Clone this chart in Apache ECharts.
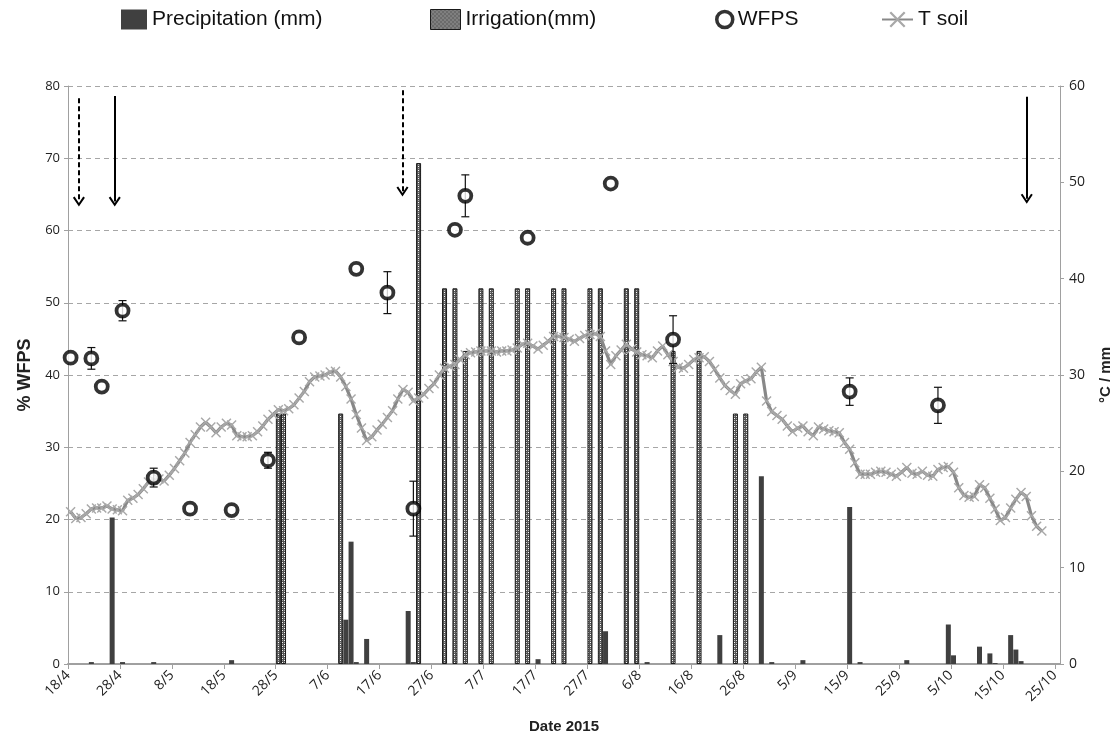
<!DOCTYPE html>
<html>
<head>
<meta charset="utf-8">
<script src="https://cdn.jsdelivr.net/npm/echarts@6/dist/echarts.min.js"></script>
<style>
  html, body { margin: 0; padding: 0; background: #fff; }
  #main { width: 1116px; height: 739px; }
</style>
</head>
<body>
<div id="main"></div>
<script>
// day 0 = 18/4/2015
var startY = 2015, startM = 3, startD = 18;

var precipDays = [4, 8, 10, 16, 31, 53, 54, 55, 57, 65, 66, 90, 103, 111, 125, 133, 135, 141, 150, 152, 161, 169, 170, 175, 177, 178, 181, 182, 183];
var precipMm   = [0.2, 15.2, 0.2, 0.2, 0.4, 4.6, 12.7, 0.2, 2.6, 5.5, 0.2, 0.5, 3.4, 0.2, 3.0, 19.5, 0.2, 0.4, 16.3, 0.2, 0.4, 4.1, 0.9, 1.8, 1.1, 0.1, 3.0, 1.5, 0.3];

var irrigDays = [40, 41, 52, 67, 72, 74, 76, 79, 81, 86, 88, 93, 95, 100, 102, 107, 109, 116, 121, 128, 130];
var irrigMm   = [26, 26, 26, 52, 39, 39, 32.5, 39, 39, 39, 39, 39, 39, 39, 39, 39, 39, 32.5, 32.5, 26, 26];

var wfpsDays = [0, 4, 6, 10, 16, 23, 31, 38, 44, 55, 61, 66, 74, 76, 88, 104, 116, 150, 167];
var wfpsMean = [42.4, 42.3, 38.4, 48.9, 25.8, 21.5, 21.3, 28.2, 45.2, 54.7, 51.4, 21.5, 60.1, 64.8, 59.0, 66.5, 44.9, 37.7, 35.8];
var wfpsErr  = [0, 1.5, 0, 1.4, 1.3, 0, 0, 1.1, 0, 0, 2.9, 3.8, 0, 2.9, 0, 0, 3.3, 1.9, 2.5];

// daily soil temperature from day 0
var tSoil = [
  15.8, 15.1, 15.2, 15.6, 16.1, 16.2, 16.2, 16.4, 16.1, 16.0,
  15.9, 17.0, 17.2, 17.6, 18.2, 18.9, 19.1, 19.2, 19.0, 19.6,
  20.3, 21.1, 21.9, 23.0, 23.8, 24.6, 25.1, 24.6, 24.0, 24.6,
  25.0, 24.8, 23.7, 23.6, 23.6, 23.7, 24.1, 24.7, 25.4, 25.9,
  26.4, 26.3, 26.5, 26.9, 27.6, 28.3, 29.3, 29.8, 29.9, 30.0,
  30.3, 30.4, 29.8, 28.8, 27.5, 25.9, 24.5, 23.2, 23.6, 24.3,
  24.9, 25.6, 26.3, 27.5, 28.5, 28.2, 27.3, 27.6, 28.0, 28.6,
  29.1, 30.0, 30.7, 30.9, 31.1, 31.6, 32.1, 32.3, 32.4, 32.5,
  32.5, 32.5, 32.4, 32.5, 32.5, 32.6, 32.8, 33.2, 33.3, 33.0,
  32.7, 33.1, 33.5, 34.0, 34.0, 33.9, 33.7, 33.5, 33.8, 34.1,
  34.2, 34.3, 34.0, 32.5, 31.1, 32.0, 32.6, 33.2, 32.7, 32.4,
  32.1, 32.0, 31.8, 32.5, 33.0, 32.1, 31.4, 30.8, 30.7, 31.1,
  31.6, 31.8, 31.9, 31.4, 30.6, 29.7, 28.9, 28.4, 28.0, 29.1,
  29.4, 29.6, 30.3, 30.8, 27.3, 26.2, 25.8, 25.4, 24.7, 24.1,
  24.5, 24.7, 24.1, 23.7, 24.6, 24.4, 24.2, 24.1, 24.0, 23.0,
  22.3, 20.9, 19.7, 19.7, 19.7, 19.9, 20.0, 19.9, 19.7, 19.5,
  19.9, 20.4, 19.8, 19.7, 20.0, 19.6, 19.5, 20.2, 20.4, 20.5,
  19.9, 18.3, 17.5, 17.3, 17.4, 18.6, 18.3, 17.2, 16.1, 14.9,
  15.2, 16.2, 17.1, 17.8, 17.4, 15.4, 14.3, 13.8
];

// management arrows (x in days, y on % WFPS axis)
var arrowX      = [2.1, 9.0, 64.4, 184.6];
var arrowTop    = [78.3, 78.6, 79.4, 78.5];
var arrowBottom = [64.0, 64.0, 65.4, 64.4];
var arrowDash   = ['dashed', 'solid', 'dashed', 'solid'];

function dayLabel(d) {
    var t = new Date(startY, startM, startD + Math.round(d));
    return t.getDate() + '/' + (t.getMonth() + 1);
}

function hatch() {
    var c = document.createElement('canvas');
    c.width = 4; c.height = 4;
    var g = c.getContext('2d');
    g.fillStyle = '#555555';
    g.fillRect(0, 0, 4, 4);
    g.fillStyle = '#ffffff';
    g.fillRect(0, 0, 1, 1);
    g.fillRect(2, 2, 1, 1);
    g.fillStyle = '#b0b0b0';
    g.fillRect(2, 0, 1, 1);
    g.fillRect(0, 2, 1, 1);
    return c;
}

var xMark = 'path://M1,0 L5,4 L9,0 L10,1 L6,5 L10,9 L9,10 L5,6 L1,10 L0,9 L4,5 L0,1 Z';
var chevron = 'path://M5,0 L10,8 L8.6,9 L5,3.2 L1.4,9 L0,8 Z';

var precipData = precipDays.map(function (d, i) { return [d + 0.5, precipMm[i]]; });
var irrigData = irrigDays.map(function (d, i) { return [d + 0.5, irrigMm[i]]; });
var tData = tSoil.map(function (v, i) { return [i + 0.5, v]; });
var wfpsData = wfpsDays.map(function (d, i) { return [d + 0.5, wfpsMean[i]]; });
var errData = [];
wfpsDays.forEach(function (d, i) {
    if (wfpsErr[i] > 0) errData.push([d + 0.5, wfpsMean[i] - wfpsErr[i], wfpsMean[i] + wfpsErr[i]]);
});
var arrowLines = arrowX.map(function (x, i) {
    return [
        { coord: [x, arrowTop[i]], lineStyle: { type: arrowDash[i] === 'dashed' ? [5, 3] : 'solid' } },
        { coord: [x, arrowBottom[i]] }
    ];
});

var myChart = echarts.init(document.getElementById('main'));

var labelFont = { fontFamily: 'Open Sans', fontSize: 13, color: '#222' };
var legendText = { fontFamily: 'Liberation Sans', fontSize: 21, color: '#111' };
var hatchFill = { image: hatch(), repeat: 'repeat' };

var option = {
    animation: false,
    backgroundColor: '#fff',
    grid: { left: 68, right: 56, top: 86, bottom: 75, containLabel: false, outerBoundsMode: 'none' },
    legend: [
        { data: ['Precipitation (mm)'], left: 121, top: 9, padding: 0, icon: 'rect', itemWidth: 26, itemHeight: 20, textStyle: legendText, selectedMode: false },
        { data: ['Irrigation(mm)'], left: 430, top: 9, padding: 0, icon: 'rect', itemWidth: 30, itemHeight: 20, textStyle: legendText, selectedMode: false,
          itemStyle: { color: hatchFill, borderColor: '#1a1a1a', borderWidth: 1 } },
        { data: ['WFPS'], left: 715, top: 9, padding: 0, itemWidth: 16, itemHeight: 20, textStyle: legendText, selectedMode: false,
          itemStyle: { color: '#fff', borderColor: '#000', borderWidth: 3.5 } },
        { data: ['T soil'], left: 881, top: 9, padding: 0, itemWidth: 31, itemHeight: 20, textStyle: legendText, selectedMode: false }
    ],
    xAxis: {
        type: 'value',
        min: 0,
        max: 191,
        interval: 10,
        name: 'Date 2015',
        nameLocation: 'middle',
        nameGap: 55,
        nameTextStyle: { fontFamily: 'Liberation Sans', fontWeight: 'bold', fontSize: 15, color: '#222' },
        axisLine: { lineStyle: { color: '#a0a0a0', width: 2 } },
        axisTick: { show: true, length: 5, lineStyle: { color: '#a0a0a0' } },
        axisLabel: Object.assign({ rotate: 45, margin: 9, showMaxLabel: false, formatter: function (v) { return v % 10 === 0 ? dayLabel(v) : ''; } }, labelFont, { fontSize: 14 }),
        splitLine: { show: false }
    },
    yAxis: [
        {
            type: 'value',
            min: 0,
            max: 80,
            interval: 10,
            name: '% WFPS',
            nameLocation: 'middle',
            nameRotate: 90,
            nameGap: 33,
            nameTextStyle: { fontFamily: 'Liberation Sans', fontWeight: 'bold', fontSize: 18, color: '#222' },
            axisLine: { show: true, lineStyle: { color: '#a0a0a0', width: 1 } },
            axisTick: { show: true, length: 4, lineStyle: { color: '#a0a0a0' } },
            axisLabel: Object.assign({ margin: 8 }, labelFont),
            splitLine: { show: true, lineStyle: { type: [5, 4], color: '#a6a6a6', width: 1 } }
        },
        {
            type: 'value',
            min: 0,
            max: 60,
            interval: 10,
            position: 'right',
            name: '°C / mm',
            nameLocation: 'middle',
            nameRotate: 90,
            nameGap: 38,
            nameTextStyle: { fontFamily: 'Liberation Sans', fontWeight: 'bold', fontSize: 15, color: '#222' },
            axisLine: { show: true, lineStyle: { color: '#a0a0a0', width: 1 } },
            axisTick: { show: true, length: 4, lineStyle: { color: '#a0a0a0' } },
            axisLabel: Object.assign({ margin: 9 }, labelFont, { fontSize: 14 }),
            splitLine: { show: false }
        }
    ],
    series: [
        {
            name: 'Precipitation (mm)',
            type: 'bar',
            yAxisIndex: 1,
            barWidth: 5,
            barGap: '-100%',
            z: 2,
            itemStyle: { color: '#404040' },
            data: precipData
        },
        {
            name: 'Irrigation(mm)',
            type: 'bar',
            yAxisIndex: 1,
            barWidth: 5,
            barGap: '-100%',
            z: 2,
            itemStyle: { color: hatchFill, borderColor: '#1a1a1a', borderWidth: 1 },
            data: irrigData
        },
        {
            name: 'T soil',
            type: 'line',
            yAxisIndex: 1,
            z: 3,
            symbol: xMark,
            symbolSize: 10,
            showAllSymbol: true,
            lineStyle: { color: '#888888', width: 3.2 },
            itemStyle: { color: '#a8a8a8' },
            data: tData
        },
        {
            name: 'err',
            type: 'custom',
            yAxisIndex: 0,
            z: 4,
            silent: true,
            renderItem: function (params, api) {
                var x = api.value(0);
                var top = api.coord([x, api.value(2)]);
                var bot = api.coord([x, api.value(1)]);
                var st = { stroke: '#111', lineWidth: 1.2 };
                return {
                    type: 'group',
                    children: [
                        { type: 'line', shape: { x1: top[0], y1: top[1], x2: bot[0], y2: bot[1] }, style: st },
                        { type: 'line', shape: { x1: top[0] - 4, y1: top[1], x2: top[0] + 4, y2: top[1] }, style: st },
                        { type: 'line', shape: { x1: bot[0] - 4, y1: bot[1], x2: bot[0] + 4, y2: bot[1] }, style: st }
                    ]
                };
            },
            data: errData
        },
        {
            name: 'WFPS',
            type: 'scatter',
            yAxisIndex: 0,
            z: 5,
            symbol: 'circle',
            symbolSize: 12,
            itemStyle: { color: '#fff', borderColor: '#000', borderWidth: 3.8 },
            data: wfpsData,
            markLine: {
                silent: true,
                symbol: ['none', chevron],
                symbolSize: [12, 10],
                label: { show: false },
                lineStyle: { color: '#000', width: 2 },
                emphasis: { disabled: true },
                data: arrowLines
            }
        }
    ]
};

myChart.setOption(option);
</script>
</body>
</html>
